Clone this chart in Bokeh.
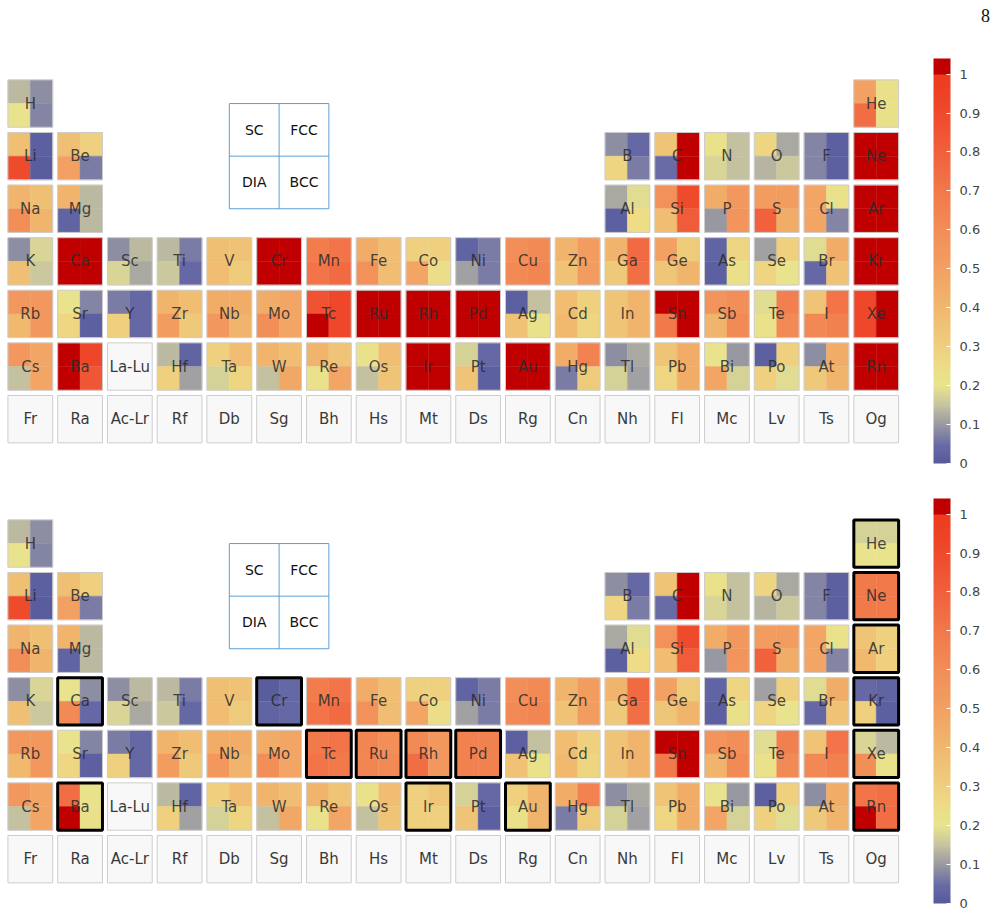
import numpy as np
from bokeh.plotting import figure
from bokeh.models import (ColumnDataSource, LinearColorMapper, ColorBar, FixedTicker,
                          CustomJSTickFormatter, Range1d, Label)
from bokeh.transform import transform
from bokeh.core.properties import value
from bokeh.embed import file_html
from bokeh.resources import INLINE

# ---------------------------------------------------------------- data
# element symbols with their (period, group) position
symbols = ["H", "He",
           "Li", "Be", "B", "C", "N", "O", "F", "Ne",
           "Na", "Mg", "Al", "Si", "P", "S", "Cl", "Ar",
           "K", "Ca", "Sc", "Ti", "V", "Cr", "Mn", "Fe", "Co", "Ni", "Cu", "Zn",
           "Ga", "Ge", "As", "Se", "Br", "Kr",
           "Rb", "Sr", "Y", "Zr", "Nb", "Mo", "Tc", "Ru", "Rh", "Pd", "Ag", "Cd",
           "In", "Sn", "Sb", "Te", "I", "Xe",
           "Cs", "Ba", "Hf", "Ta", "W", "Re", "Os", "Ir", "Pt", "Au", "Hg",
           "Tl", "Pb", "Bi", "Po", "At", "Rn"]
periods = [1, 1] + [2] * 8 + [3] * 8 + [4] * 18 + [5] * 18 + [6] * 17
groups = ([1, 18] + [1, 2] + list(range(13, 19)) + [1, 2] + list(range(13, 19))
          + list(range(1, 19)) + list(range(1, 19)) + [1, 2] + list(range(4, 19)))

# placeholder cells (no data)
empty_symbols = ["La-Lu", "Fr", "Ra", "Ac-Lr", "Rf", "Db", "Sg", "Bh", "Hs", "Mt",
                 "Ds", "Rg", "Cn", "Nh", "Fl", "Mc", "Lv", "Ts", "Og"]
empty_periods = [6] + [7] * 18
empty_groups = [3] + list(range(1, 19))

# values per lattice (top table); > 1 means off the scale
sc = [0.14, 0.50,
      0.37, 0.37, 0.09, 0.35, 0.22, 0.28, 0.08, 1.2,
      0.42, 0.42, 0.12, 0.58, 0.45, 0.52, 0.48, 1.2,
      0.09, 1.2, 0.09, 0.14, 0.37, 1.2, 0.68, 0.45, 0.30, 0.03, 0.60, 0.42,
      0.42, 0.50, 0.03, 0.11, 0.19, 1.2,
      0.55, 0.21, 0.07, 0.42, 0.45, 0.45, 0.86, 1.2, 1.2, 1.2, 0.02, 0.38,
      0.35, 1.2, 0.57, 0.19, 0.35, 0.92,
      0.55, 1.2, 0.14, 0.30, 0.42, 0.42, 0.22, 1.2, 0.17, 1.2, 0.45,
      0.09, 0.35, 0.21, 0.02, 0.09, 1.2]
fcc = [0.09, 0.23,
       0.02, 0.30, 0.04, 1.2, 0.15, 0.12, 0.02, 1.2,
       0.37, 0.14, 0.19, 0.90, 0.55, 0.52, 0.22, 1.2,
       0.18, 1.2, 0.14, 0.07, 0.36, 1.2, 0.72, 0.38, 0.30, 0.07, 0.62, 0.52,
       0.76, 0.32, 0.28, 0.30, 0.45, 1.2,
       0.55, 0.08, 0.04, 0.38, 0.45, 0.48, 0.92, 1.2, 1.2, 1.2, 0.15, 0.30,
       0.42, 1.2, 0.60, 0.67, 0.72, 1.2,
       0.48, 0.93, 0.03, 0.38, 0.38, 0.35, 0.38, 1.2, 0.04, 1.2, 0.65,
       0.12, 0.45, 0.10, 0.30, 0.45, 1.2]
dia = [0.21, 0.75,
       0.90, 0.50, 0.28, 0.05, 0.18, 0.13, 0.08, 1.2,
       0.60, 0.03, 0.02, 0.38, 0.10, 0.80, 0.48, 1.2,
       0.37, 1.2, 0.18, 0.16, 0.38, 1.2, 0.72, 0.58, 0.48, 0.11, 0.62, 0.36,
       0.33, 0.34, 0.02, 0.28, 0.04, 1.2,
       0.40, 0.27, 0.30, 0.52, 0.55, 0.60, 1.2, 1.2, 1.2, 1.2, 0.36, 0.40,
       0.35, 0.70, 0.42, 0.22, 0.63, 0.92,
       0.15, 1.2, 0.30, 0.17, 0.15, 0.22, 0.15, 1.2, 0.35, 1.2, 0.07,
       0.17, 0.27, 0.48, 0.30, 0.33, 1.2]
bcc = [0.08, 0.23,
       0.01, 0.07, 0.07, 1.2, 0.15, 0.16, 0.02, 1.2,
       0.42, 0.14, 0.25, 0.82, 0.57, 0.45, 0.08, 1.2,
       0.16, 1.2, 0.12, 0.04, 0.32, 1.2, 0.76, 0.38, 0.24, 0.07, 0.64, 0.52,
       0.74, 0.42, 0.23, 0.21, 0.36, 1.2,
       0.55, 0.02, 0.04, 0.33, 0.42, 0.48, 0.92, 1.2, 1.2, 1.2, 0.22, 0.28,
       0.42, 1.2, 0.62, 0.62, 0.66, 1.2,
       0.48, 0.85, 0.11, 0.28, 0.47, 0.48, 0.35, 1.2, 0.02, 1.2, 0.32,
       0.11, 0.45, 0.17, 0.19, 0.42, 1.2]

# bottom table: same values except for these elements (outlined), (SC, FCC, DIA, BCC)
revised = {
    "He": (0.17, 0.17, 0.21, 0.21),
    "Ne": (0.70, 0.70, 0.70, 0.70),
    "Ar": (0.35, 0.30, 0.40, 0.30),
    "Ca": (0.21, 0.09, 0.62, 0.04),
    "Cr": (0.01, 0.04, 0.03, 0.04),
    "Kr": (0.04, 0.03, 0.30, 0.02),
    "Tc": (0.70, 0.72, 0.72, 0.70),
    "Ru": (0.64, 0.60, 0.64, 0.62),
    "Rh": (0.62, 0.55, 0.75, 0.55),
    "Pd": (0.66, 0.66, 0.66, 0.66),
    "Xe": (0.18, 0.14, 0.60, 0.22),
    "Ba": (0.75, 0.22, 1.2, 0.23),
    "Ir": (0.30, 0.34, 0.30, 0.30),
    "Au": (0.30, 0.42, 0.23, 0.42),
    "Rn": (0.72, 0.74, 1.2, 0.75),
}

lattices = ["SC", "FCC", "DIA", "BCC"]
cbar_ticks = [0, 0.1, 0.2, 0.3, 0.4, 0.5, 0.6, 0.7, 0.8, 0.9, 1]

# ---------------------------------------------------------------- colours
stops = [(0.00, "#565a9c"), (0.05, "#6a6ca6"), (0.10, "#9a9aa2"), (0.15, "#c6c3a0"),
         (0.20, "#e8e48e"), (0.25, "#eedc86"), (0.30, "#eecf7e"), (0.40, "#f0b86e"),
         (0.50, "#f2a062"), (0.60, "#f28e58"), (0.70, "#f2784a"), (0.80, "#f0603c"),
         (0.90, "#ee4a2c"), (1.00, "#ee3a1e")]
OVER = "#c00000"


def hex2rgb(h):
    return np.array([int(h[i:i + 2], 16) for i in (1, 3, 5)], dtype=float)


sp = np.array([s[0] for s in stops])
sc_rgb = np.array([hex2rgb(s[1]) for s in stops])
N = 200
levels = (np.arange(N) + 0.5) / N
palette = []
for t in levels:
    rgb = [np.interp(t, sp, sc_rgb[:, k]) for k in range(3)]
    palette.append("#%02x%02x%02x" % tuple(int(round(c)) for c in rgb))
palette += [OVER] * 8          # short "over" segment on top of the bar
mapper = LinearColorMapper(palette=palette, low=0, high=1.04,
                           low_color=palette[0], high_color=OVER)

# ---------------------------------------------------------------- geometry
W, H = 998, 916
PX_X, PX_Y = 49.76, 52.6          # pixels per group / per period
X0 = 1 - 29.8 / PX_X
Y0 = 1 - 103.05 / PX_Y
OFFSET = 440 / PX_Y               # second table shift, in periods
CELL = 0.9
Q = CELL / 4
quad_dx = {"SC": -Q, "FCC": Q, "DIA": -Q, "BCC": Q}
quad_dy = {"SC": -Q, "FCC": -Q, "DIA": Q, "BCC": Q}

p = figure(width=W, height=H, output_backend="svg", toolbar_location=None,
           x_range=Range1d(X0, X0 + W / PX_X), y_range=Range1d(Y0 + H / PX_Y, Y0),
           x_axis_location=None, y_axis_location=None, min_border=0,
           outline_line_color=None, background_fill_color="white")
p.grid.visible = False

table_vals = []
top = {s: (a, b, c, d) for s, a, b, c, d in zip(symbols, sc, fcc, dia, bcc)}
bottom = dict(top)
bottom.update(revised)
table_vals = [(0.0, top), (OFFSET, bottom)]

qx, qy, qv = [], [], []
cx, cy, ctext, edge_col, edge_w = [], [], [], [], []
ex, ey, etext = [], [], []
for shift, vals in table_vals:
    for s, per, grp in zip(symbols, periods, groups):
        for lat, v in zip(lattices, vals[s]):
            qx.append(grp + quad_dx[lat])
            qy.append(per + shift + quad_dy[lat])
            qv.append(v)
        cx.append(grp)
        cy.append(per + shift)
        ctext.append(s)
        hi = shift > 0 and s in revised
        edge_col.append("black" if hi else "#cdcdcd")
        edge_w.append(3 if hi else 1)
    for s, per, grp in zip(empty_symbols, empty_periods, empty_groups):
        ex.append(grp)
        ey.append(per + shift)
        etext.append(s)

quads = ColumnDataSource(dict(x=qx, y=qy, v=qv))
cells = ColumnDataSource(dict(x=cx, y=cy, text=ctext, lc=edge_col, lw=edge_w))
blanks = ColumnDataSource(dict(x=ex, y=ey, text=etext))

p.rect("x", "y", width=CELL / 2, height=CELL / 2, source=quads,
       fill_color=transform("v", mapper), line_color=transform("v", mapper),
       line_width=0.4)
p.rect("x", "y", width=CELL, height=CELL, source=blanks,
       fill_color="#f8f8f8", line_color="#cdcdcd", line_width=1)
# plain outlines first, emphasised ones on top
plain = [i for i, w in enumerate(edge_w) if w == 1]
bold = [i for i, w in enumerate(edge_w) if w == 3]
for idx in (plain, bold):
    sub = ColumnDataSource({k: [cells.data[k][i] for i in idx] for k in cells.data})
    p.rect("x", "y", width=CELL, height=CELL, source=sub, fill_color=None,
           line_color="lc", line_width="lw")

label_kw = dict(text_font=value("DejaVu Sans"), text_font_size="15px",
                text_align="center", text_baseline="middle")
p.text("x", "y", text="text", source=cells, text_color="#2a2a2a", text_alpha=0.85,
       **label_kw)
p.text("x", "y", text="text", source=blanks, text_color="#3a3a3a", **label_kw)

# lattice key: a 2x2 box centred on group 6 / period 2
for shift in (0.0, OFFSET):
    key_x, key_y = 6, 2 + shift
    p.rect(x=[key_x], y=[key_y], width=2, height=2, fill_color=None,
           line_color="#5b9fd6", line_width=1)
    p.segment(x0=[key_x, key_x - 1], y0=[key_y - 1, key_y],
              x1=[key_x, key_x + 1], y1=[key_y + 1, key_y],
              line_color="#5b9fd6", line_width=1)
    p.text(x=[key_x + quad_dx[l] * 0.5 / Q for l in lattices],
           y=[key_y + quad_dy[l] * 0.5 / Q for l in lattices],
           text=lattices, text_color="#111111",
           text_font=value("DejaVu Sans"), text_font_size="14px",
           text_align="center", text_baseline="middle")

# colour bars, one per table
for bottom_px in (453, 13):
    cb = ColorBar(color_mapper=mapper, width=17, height=405,
                  location=(933, bottom_px), orientation="vertical",
                  padding=0, margin=0,
                  ticker=FixedTicker(ticks=cbar_ticks),
                  formatter=CustomJSTickFormatter(
                      code="return Number(tick.toFixed(1)).toString();"),
                  major_label_text_font="DejaVu Sans",
                  major_label_text_font_size="13px",
                  major_label_text_color="#444444",
                  label_standoff=9,
                  major_tick_line_color="white", major_tick_in=4, major_tick_out=0,
                  minor_tick_line_color=None,
                  bar_line_color=None, border_line_color=None,
                  background_fill_color=None)
    p.add_layout(cb)

p.add_layout(Label(x=985, y=H - 15, x_units="screen", y_units="screen", text="8",
                   text_font="Liberation Serif", text_font_size="18px",
                   text_align="center", text_baseline="middle",
                   text_color="#111111"))

open("out.html", "w").write(file_html(p, INLINE))
